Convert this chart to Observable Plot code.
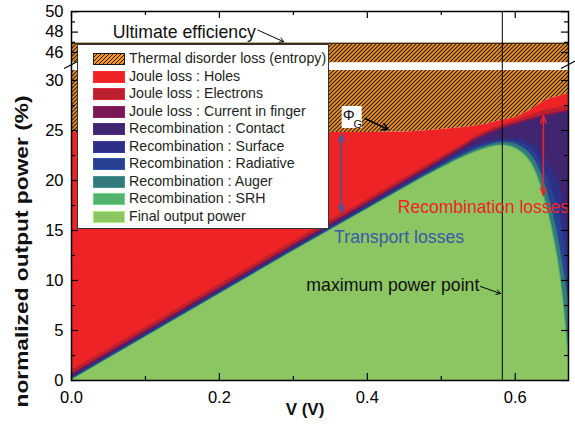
<!DOCTYPE html>
<html>
<head>
<meta charset="utf-8">
<script src="https://cdn.jsdelivr.net/npm/d3@7"></script>
<script src="https://cdn.jsdelivr.net/npm/@observablehq/plot@0.6"></script>
<style>
  body { margin: 0; background: #fff; }
  #wrap { position: relative; width: 575px; height: 429px; font-family: "Liberation Sans", Arial, Helvetica, sans-serif; }
  #legend { position: absolute; left: 77px; top: 44px; width: 252px; height: 185px; background: #fff; border: 1px solid #333; box-sizing: border-box; }
  .sw { position: absolute; left: 15px; width: 32px; height: 12px; box-sizing: border-box; }
  .lab { position: absolute; left: 51px; font-size: 14.2px; line-height: 15px; white-space: nowrap; color: #231f20; }
</style>
</head>
<body>
<div id="wrap"></div>
<script>
// ---------------- data ----------------
const voltage      = [0, 0.1, 0.2, 0.3, 0.4, 0.45, 0.5, 0.53, 0.55, 0.57, 0.58, 0.59, 0.6, 0.61, 0.62, 0.63, 0.64, 0.65, 0.66, 0.665, 0.67, 0.672];
const finalOutput  = [0, 4.3, 8.6, 12.9, 17.1, 19.2, 21.2, 22.3, 22.9, 23.35, 23.45, 23.4, 23.15, 22.65, 21.8, 20.3, 17.9, 14.8, 10.6, 7.6, 3.5, 2.0];
const srhTop       = [0.05, 4.35, 8.65, 12.95, 17.16, 19.26, 21.27, 22.38, 22.99, 23.45, 23.55, 23.5, 23.28, 22.8, 22.03, 20.63, 18.35, 15.4, 11.35, 8.55, 4.9, 3.4];
const augerTop     = [0.12, 4.42, 8.72, 13.02, 17.23, 19.35, 21.4, 22.55, 23.2, 23.65, 23.8, 23.8, 23.65, 23.3, 22.7, 21.6, 19.7, 17.1, 13.6, 11.4, 9.0, 7.6];
const radiativeTop = [0.22, 4.52, 8.82, 13.12, 17.34, 19.48, 21.55, 22.75, 23.4, 23.82, 23.95, 23.98, 23.9, 23.68, 23.25, 22.45, 20.95, 19.05, 16.6, 14.6, 11.25, 8.8];
const surfaceTop   = [0.32, 4.62, 8.92, 13.22, 17.45, 19.6, 21.7, 22.95, 23.6, 24.0, 24.1, 24.15, 24.15, 24.05, 23.8, 23.3, 22.2, 21.0, 19.6, 17.8, 13.5, 10.0];
const contactTop   = [0.45, 4.75, 9.05, 13.35, 17.6, 19.75, 21.9, 23.2, 24.1, 24.75, 25.05, 25.3, 25.5, 25.75, 25.95, 26.15, 26.35, 26.5, 26.65, 26.7, 26.8, 26.85];
const fingerTop    = [0.65, 4.95, 9.25, 13.55, 17.8, 19.95, 22.1, 23.4, 24.3, 24.95, 25.25, 25.5, 25.7, 25.95, 26.15, 26.35, 26.55, 26.7, 26.85, 26.9, 27.0, 27.05];
const electronsTop = [1.0, 5.3, 9.6, 13.9, 18.1, 20.25, 22.35, 23.65, 24.55, 25.2, 25.5, 25.75, 26.0, 26.25, 26.5, 26.75, 27.0, 27.15, 27.3, 27.4, 27.45, 27.5];
const holesTop     = [24.8, 24.8, 24.8, 24.8, 24.8, 24.85, 25.1, 25.3, 25.5, 25.8, 26.0, 26.15, 26.3, 26.65, 27.0, 27.5, 27.95, 28.25, 28.45, 28.55, 28.65, 28.7];
const ultimateEfficiency = 46.9;
const mppVoltage = 0.5825;

const seriesNames  = ["Thermal disorder loss (entropy)", "Joule loss : Holes", "Joule loss : Electrons", "Joule loss : Current in finger",
                      "Recombination : Contact", "Recombination : Surface", "Recombination : Radiative", "Recombination : Auger",
                      "Recombination : SRH", "Final output power"];
const seriesColors = ["url(#hatch)", "#EE2326", "#BC1F2E", "#7A1651", "#422570", "#2E3088", "#274290", "#337A7A", "#53B36D", "#8BC663"];
const seriesTops   = [null, holesTop, electronsTop, fingerTop, contactTop, surfaceTop, radiativeTop, augerTop, srhTop, finalOutput];

const xTicksMajor = [0, 0.2, 0.4, 0.6];
const xTicksMinor = [0.1, 0.3, 0.5];
const yTicksMajor = [0, 5, 10, 15, 20, 25, 30, 46, 48, 50];
const yTicksMinor = [2.5, 7.5, 12.5, 17.5, 22.5, 27.5, 47, 49];
const yBreak = [31, 45];
const xMax = 0.672;
const yLabel = "normalized output power (%)";
const xLabel = "V (V)";

// ---------------- build ----------------
const rows = voltage.map((v, i) => {
  const r = {V: v, ult: ultimateEfficiency};
  seriesTops.forEach((arr, k) => { if (arr) r["s" + k] = arr[i]; });
  return r;
});

const fontFamily = '"Liberation Sans", Arial, Helvetica, sans-serif';
const blueAnn = "#3A59A8", redAnn = "#EE2326";
const annSize = 17.7;

const areaMarks = [];
areaMarks.push(Plot.areaY(rows, {x: "V", y1: "s1", y2: "ult", fill: seriesColors[0], curve: "monotone-x"}));
for (let k = 1; k < seriesNames.length; k++) {
  areaMarks.push(Plot.areaY(rows, {x: "V", y1: 0, y2: "s" + k, fill: seriesColors[k], curve: "monotone-x"}));
}

const chart = Plot.plot({
  width: 575, height: 429,
  marginLeft: 71, marginRight: 7, marginTop: 11, marginBottom: 49,
  style: {fontFamily, fontSize: "16.5px", background: "white", color: "black", overflow: "visible"},
  x: {domain: [0, xMax]},
  y: {type: "linear", domain: [0, yBreak[0], yBreak[1], 50], range: [380, 70, 62.2, 11.2]},
  marks: [
    ...areaMarks,
    Plot.ruleY([ultimateEfficiency], {stroke: "#3b2a12", strokeWidth: 1.2}),
    Plot.rect([0], {x1: 0, x2: xMax, y1: yBreak[0], y2: yBreak[1], fill: "white"}),
    Plot.ruleX([mppVoltage], {stroke: "black", strokeWidth: 1}),
    // annotations
    Plot.text(["Ultimate efficiency"], {x: 0.1525, y: 48.0, fontSize: annSize, fill: "#111"}),
    Plot.arrow([0], {x1: 0.252, y1: 48.2, x2: 0.287, y2: 47.05, stroke: "black", strokeWidth: 1, headLength: 7}),
    Plot.rect([0], {x1: 0.366, x2: 0.393, y1: 25.2, y2: 27.4, fill: "white"}),
    Plot.text(["Φ"], {x: 0.375, y: 26.5, fontSize: 15, fill: "#111"}),
    Plot.text(["G"], {x: 0.387, y: 25.6, fontSize: 11, fill: "#111"}),
    Plot.arrow([0], {x1: 0.397, y1: 26.2, x2: 0.428, y2: 25.1, stroke: "black", strokeWidth: 1.5, headLength: 7}),
    Plot.arrow([0], {x1: 0.365, y1: 21, x2: 0.365, y2: 24.6, stroke: blueAnn, strokeWidth: 1.5, headLength: 8, headAngle: 40}),
    Plot.arrow([0], {x1: 0.365, y1: 21, x2: 0.365, y2: 16.8, stroke: blueAnn, strokeWidth: 1.5, headLength: 8, headAngle: 40}),
    Plot.arrow([0], {x1: 0.638, y1: 22.5, x2: 0.638, y2: 26.5, stroke: redAnn, strokeWidth: 1.5, headLength: 8, headAngle: 40}),
    Plot.arrow([0], {x1: 0.638, y1: 22.5, x2: 0.638, y2: 18.5, stroke: redAnn, strokeWidth: 1.5, headLength: 8, headAngle: 40}),
    Plot.text(["Recombination losses"], {x: 0.557, y: 17.3, fontSize: 17.5, fill: redAnn}),
    Plot.text(["Transport losses"], {x: 0.443, y: 14.3, fontSize: annSize, fill: blueAnn}),
    Plot.text(["maximum power point"], {x: 0.4345, y: 9.5, fontSize: annSize, fill: "#111"}),
    Plot.arrow([0], {x1: 0.553, y1: 9.4, x2: 0.58, y2: 8.7, stroke: "black", strokeWidth: 1, headLength: 7}),
    // frame + ticks
    Plot.frame({stroke: "black", strokeWidth: 1.5}),
    Plot.tickY(yTicksMajor, {y: d => d, insetRight: 490, stroke: "black", strokeWidth: 1.2}),
    Plot.tickY(yTicksMinor, {y: d => d, insetRight: 493, stroke: "black", strokeWidth: 1.2}),
    Plot.tickY(yTicksMajor, {y: d => d, insetLeft: 490, stroke: "black", strokeWidth: 1.2}),
    Plot.tickY(yTicksMinor, {y: d => d, insetLeft: 493, stroke: "black", strokeWidth: 1.2}),
    Plot.tickX(xTicksMajor, {x: d => d, insetTop: 362, stroke: "black", strokeWidth: 1.2}),
    Plot.tickX(xTicksMinor, {x: d => d, insetTop: 365, stroke: "black", strokeWidth: 1.2}),
    Plot.tickX(xTicksMajor, {x: d => d, insetBottom: 362, stroke: "black", strokeWidth: 1.2}),
    Plot.tickX(xTicksMinor, {x: d => d, insetBottom: 365, stroke: "black", strokeWidth: 1.2}),
    // break slashes
    Plot.link([0], {x1: -0.01, x2: 0.01, y1: 34.6, y2: 45.2, stroke: "black", strokeWidth: 1.2}),
    Plot.link([0], {x1: xMax - 0.01, x2: xMax + 0.01, y1: 34.6, y2: 45.2, stroke: "black", strokeWidth: 1.2}),
    // axes labels
    Plot.axisY({ticks: yTicksMajor, tickSize: 0, tickPadding: 8, fontSize: 16.5, label: null}),
    Plot.axisX({ticks: xTicksMajor, tickSize: 0, tickPadding: 11, fontSize: 16.5, tickFormat: d3.format(".1f"), label: null}),
    Plot.text([yLabel], {x: -0.0676, y: 12.9, rotate: -90, fontWeight: "bold", fontSize: 19, fill: "#111"}),
    Plot.text([xLabel], {frameAnchor: "bottom", dx: -15, dy: 34, fontWeight: "bold", fontSize: 17, fill: "#111"})
  ]
});

const svg = chart.tagName.toLowerCase() === "svg" ? chart : chart.querySelector("svg");
const ns = "http://www.w3.org/2000/svg";
const defs = document.createElementNS(ns, "defs");
defs.innerHTML = '<pattern id="hatch" patternUnits="userSpaceOnUse" width="4" height="4">' +
  '<rect width="4" height="4" fill="#F7941D"/>' +
  '<path d="M-1,1 l2,-2 M0,4 l4,-4 M3,5 l2,-2" stroke="#1a1a1a" stroke-width="1.1"/></pattern>';
svg.insertBefore(defs, svg.firstChild);
// the y title in the reference is stretched along its length
svg.querySelectorAll("text").forEach(t => {
  if (t.textContent === yLabel) { t.setAttribute("textLength", "312"); t.setAttribute("lengthAdjust", "spacingAndGlyphs"); }
});

const wrap = document.getElementById("wrap");
wrap.appendChild(chart);

// legend (inside plot area)
const legend = document.createElement("div");
legend.id = "legend";
seriesNames.forEach((name, k) => {
  const cy = 14 + 17.5 * k;
  const sw = document.createElement("div");
  sw.className = "sw";
  sw.style.top = (cy - 6) + "px";
  if (k === 0) {
    sw.style.background = "repeating-linear-gradient(135deg, #F7941D 0 1.7px, #1a1a1a 1.7px 2.8px)";
    sw.style.border = "1.2px solid #1a1a1a";
  } else {
    sw.style.background = seriesColors[k];
    sw.style.border = "1px solid " + d3.color(seriesColors[k]).brighter(0.6).formatHex();
  }
  const lab = document.createElement("div");
  lab.className = "lab";
  lab.style.top = (cy - 8) + "px";
  lab.textContent = name;
  legend.appendChild(sw);
  legend.appendChild(lab);
});
wrap.appendChild(legend);
</script>
</body>
</html>
